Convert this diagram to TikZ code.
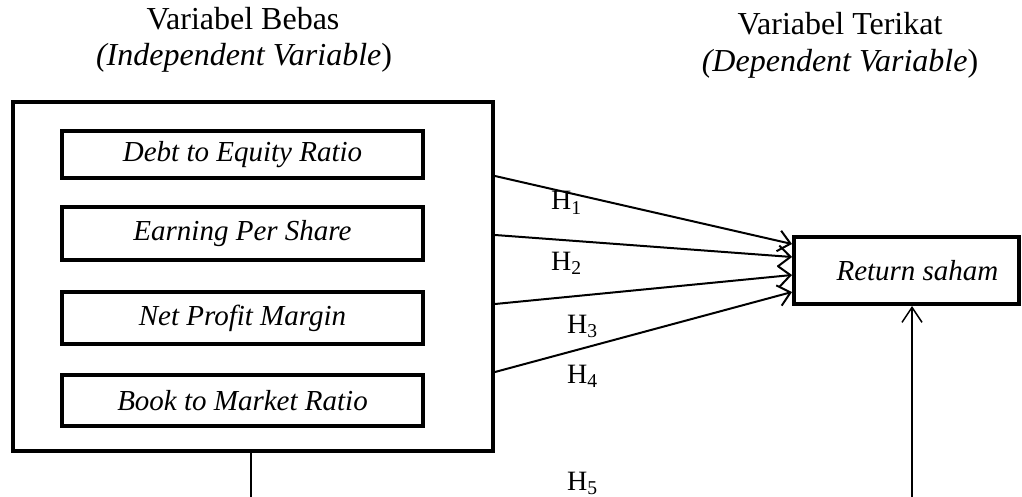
\documentclass[tikz,border=0pt]{standalone}
\usepackage{fontspec}
\setmainfont{Liberation Serif}
\usetikzlibrary{arrows.meta}
\usetikzlibrary{positioning}

\begin{document}
\begin{tikzpicture}[x=1pt, y=-1pt,
    varbox/.style={draw, line width=4pt, inner sep=0pt, minimum width=361pt,
      font=\fontsize{29}{34}\selectfont\itshape},
    title/.style={anchor=base, inner sep=0pt, font=\fontsize{32}{36}\selectfont},
    hlabel/.style={anchor=base west, inner sep=0pt, font=\fontsize{28}{30}\selectfont},
    hyp/.style={line width=2pt, -{Straight Barb[length=12pt, width=21pt]}}]
  \useasboundingbox (0,0) rectangle (1022,497);

  % judul
  \node[title] (bebas1) at (243,30) {Variabel Bebas};
  \node[title] (bebas2) at (244,66) {\textit{(Independent Variable})};
  \node[title] (terikat1) at (840,35) {Variabel Terikat};
  \node[title] (terikat2) at (840,72) {\textit{(Dependent Variable})};

  % variabel bebas
  \node[draw, line width=4pt, inner sep=0pt, minimum width=480pt,
    minimum height=349pt] (bebas) at (253,276.5) {};
  \node[varbox, minimum height=47pt] (der) at (242.5,154.5) {Debt to Equity Ratio};
  \node[varbox, minimum height=53pt] (eps) at (242.5,233.5) {Earning Per Share};
  \node[varbox, minimum height=52pt] (npm) at (242.5,318) {Net Profit Margin};
  \node[varbox, minimum height=51pt] (btm) at (242.5,400.5) {Book to Market Ratio};

  % variabel terikat
  \node[draw, line width=4pt, inner sep=0pt, minimum width=225pt, minimum height=67pt,
    font=\fontsize{29}{34}\selectfont\itshape] (ret) at (906.5,270.5)
    {\hspace*{22pt}Return saham};

  % hipotesis
  \draw[hyp] ([yshift=-76pt]bebas.north east) -- ([yshift=-9pt]ret.north west);
  \draw[hyp] ([yshift=-135pt]bebas.north east) -- ([yshift=-22pt]ret.north west);
  \draw[hyp] ([yshift=-204pt]bebas.north east) -- ([yshift=-40pt]ret.north west);
  \draw[hyp] ([yshift=-272pt]bebas.north east) -- ([yshift=-57pt]ret.north west);

  \coordinate (kaki) at (251,497);
  \draw[line width=1.5pt] (kaki |- bebas.south) -- (kaki);
  \coordinate (h5) at (912,497);
  \draw[line width=1.5pt, -{Straight Barb[length=15pt, width=20pt]}] (h5) -- (h5 |- ret.south);

  \node[hlabel] (h1) at (551,210) {H\textsubscript{1}};
  \node[hlabel] (h2) at (551,270) {H\textsubscript{2}};
  \node[hlabel] (h3) at (567,333) {H\textsubscript{3}};
  \node[hlabel] (h4) at (567,383) {H\textsubscript{4}};
  \node[hlabel] (h5l) at (567,490) {H\textsubscript{5}};
\end{tikzpicture}
\end{document}
